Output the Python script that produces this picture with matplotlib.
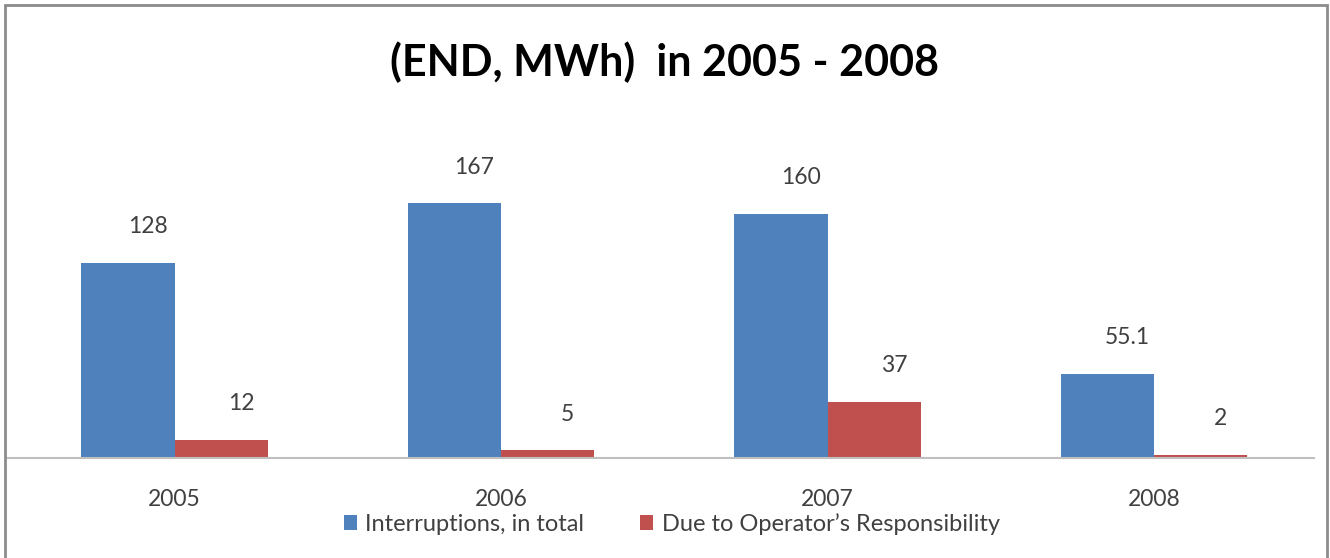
import matplotlib.pyplot as plt
import matplotlib.patches as mpatches
import numpy as np

years = ['2005', '2006', '2007', '2008']
total = [128, 167, 160, 55.1]
operator = [12, 5, 37, 2]
total_labels = ['128', '167', '160', '55.1']
operator_labels = ['12', '5', '37', '2']
series_names = ['Interruptions, in total', "Due to Operator\u2019s Responsibility"]

blue = '#4F81BD'
red = '#C0504D'
font = ['Lato', 'DejaVu Sans']

fig = plt.figure(figsize=(13.3, 5.58), dpi=100)
ax = fig.add_axes([8 / 1330, 100 / 558, 1306 / 1330, 305 / 558])

x = np.arange(len(years))
w = 0.285
b1 = ax.bar(x - w / 2, total, w, color=blue, label=series_names[0])
b2 = ax.bar(x + w / 2, operator, w, color=red, label=series_names[1])

for bars, labs in ((b1, total_labels), (b2, operator_labels)):
    for r, t in zip(bars, labs):
        ax.annotate(t, (r.get_x() + r.get_width() / 2, r.get_height()),
                    xytext=(20, 36), textcoords='offset pixels',
                    ha='center', va='center', fontsize=16.5,
                    color='#404040', family=font)

ax.set_xlim(-0.51, 3.49)
ax.set_ylim(0, 200)
ax.set_xticks(x)
ax.set_xticklabels(years, family=font, fontsize=16.5, color='#404040')
ax.tick_params(axis='x', length=0, pad=22)
ax.set_yticks([])
for s in ['top', 'right', 'left']:
    ax.spines[s].set_visible(False)
ax.spines['bottom'].set_color('#BFBFBF')
ax.spines['bottom'].set_linewidth(1.5)

fig.text(0.5, 1 - 62 / 558, '(END, MWh)  in 2005 - 2008', ha='center', va='center',
         fontsize=31, fontweight='bold', family=font, color='black')

leg = fig.legend(loc='center', bbox_to_anchor=(0.505, 1 - 524 / 558), ncol=2,
                 frameon=False, prop={'family': font, 'size': 17},
                 handlelength=0.55, handleheight=0.55, handletextpad=0.35,
                 columnspacing=2.4, borderpad=0)
for t in leg.get_texts():
    t.set_color('#404040')

fig.patches.append(mpatches.Rectangle((5 / 1330, -0.02), 1322 / 1330, 1.02 - 5 / 558,
                                      transform=fig.transFigure, fill=False,
                                      edgecolor='#8C8C8C', linewidth=2))

fig.savefig('out.png', dpi=100)
